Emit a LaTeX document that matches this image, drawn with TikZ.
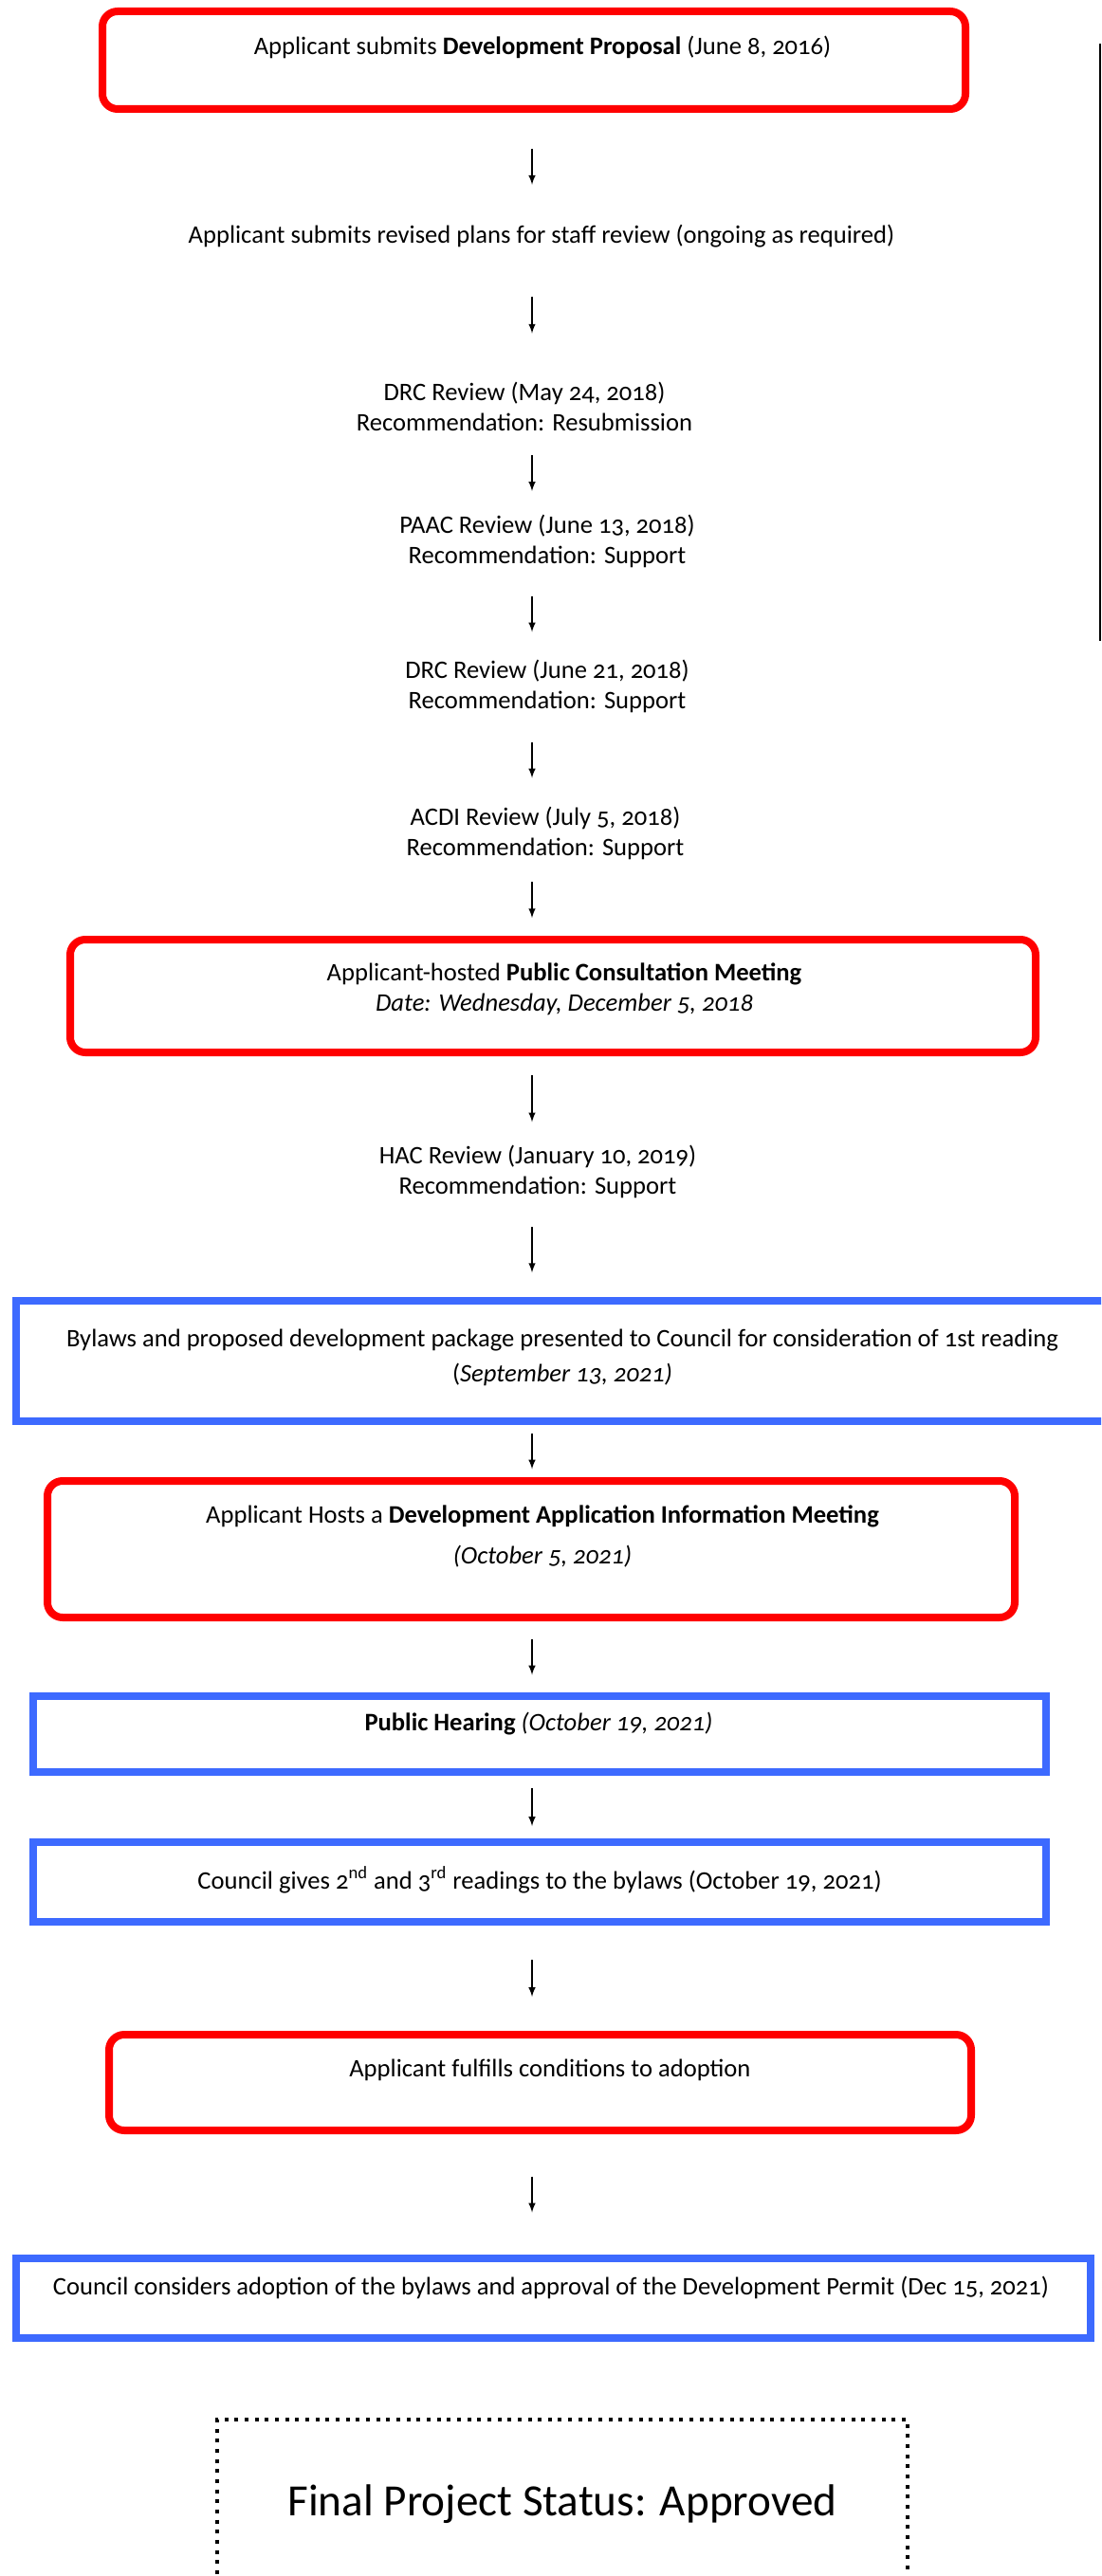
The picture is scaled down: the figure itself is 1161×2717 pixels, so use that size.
\documentclass[tikz,border=0pt]{standalone}
\usepackage{fontspec}
\setmainfont{Carlito}[Numbers=OldStyle]
\usetikzlibrary{calc}

\definecolor{boxred}{RGB}{255,0,0}
\definecolor{boxblue}{RGB}{61,106,255}

\tikzset{
  every node/.style={font=\fontsize{13.3pt}{16pt}\selectfont},
  txt/.style={align=center, inner sep=0pt},
  redbox/.style={draw=boxred, line width=4pt, rounded corners=8pt, inner sep=0pt, outer sep=0pt},
  bluebox/.style={draw=boxblue, line width=4pt, inner sep=0pt, outer sep=0pt},
  statusbox/.style={draw, line width=2pt, dash pattern=on 2pt off 3.33pt, inner sep=0pt, outer sep=0pt},
  flow/.style={->, line width=0.7pt},
}

\begin{document}
\begin{tikzpicture}[x=0.5pt, y=-0.5pt, >=latex]
        \clip (0,0) rectangle (1161,2717);
        \coordinate (spine) at (561,0);

        % thin rule at the right edge
        \draw[line width=0.6pt] (1160,46) -- (1160,676);

        % development proposal
        \node[redbox, minimum width=455pt, minimum height=51.5pt] (proposal) at (563,63.5) {};
        \node[txt] (proposal-t) at (572,50) {Applicant submits \textbf{Development Proposal} (June 8, 2016)};

        % staff and committee reviews
        \node[txt] (revised) at (571,249) {Applicant submits revised plans for staff review (ongoing as required)};
        \node[txt] (drcmay) at (553,429) {DRC Review (May 24, 2018)\\Recommendation: Resubmission};
        \node[txt] (paac) at (577,571) {PAAC Review (June 13, 2018)\\Recommendation: Support};
        \node[txt] (drcjune) at (577,724) {DRC Review (June 21, 2018)\\Recommendation: Support};
        \node[txt] (acdi) at (575,879) {ACDI Review (July 5, 2018)\\Recommendation: Support};

        % public consultation
        \node[redbox, minimum width=509pt, minimum height=59.5pt] (consult) at (583,1050.5) {};
        \node[txt] (consult-t) at (595,1043) {Applicant-hosted \textbf{Public Consultation Meeting}\\\textit{Date: Wednesday, December 5, 2018}};

        \node[txt] (hac) at (567,1236) {HAC Review (January 10, 2019)\\Recommendation: Support};

        % council and meetings
        \node[bluebox, minimum width=581.5pt, minimum height=63.5pt] (firstread) at (598.5,1435.5) {};
        \node[txt] (firstread-t) at (593,1431.5) {Bylaws and proposed development package presented to Council for consideration of 1st reading\\[2.5pt](\textit{September 13, 2021)}};

        \node[redbox, minimum width=510pt, minimum height=72pt] (infomeet) at (560,1634) {};
        \node[txt] (infomeet-t) at (572,1620.5) {Applicant Hosts a \textbf{Development Application Information Meeting}\\[5.5pt]\textit{(October 5, 2021)}};

        \node[bluebox, minimum width=534pt, minimum height=40pt] (hearing) at (569,1829) {};
        \node[txt] (hearing-t) at (568,1818) {\textbf{Public Hearing} \textit{(October 19, 2021)}};

        \node[bluebox, minimum width=534pt, minimum height=42pt] (readings) at (569,1985) {};
        \node[txt] (readings-t) at (569,1983) {Council gives 2\textsuperscript{nd} and 3\textsuperscript{rd} readings to the bylaws (October 19, 2021)};

        \node[redbox, minimum width=454.5pt, minimum height=50.5pt] (conditions) at (569.5,2196.5) {};
        \node[txt] (conditions-t) at (580,2183) {Applicant fulfills conditions to adoption};

        \node[bluebox, minimum width=566.5pt, minimum height=42pt] (adoption) at (583.5,2424) {};
        \node[txt] (adoption-t) at (581,2413) {Council considers adoption of the bylaws and approval of the Development Permit (Dec 15, 2021)};

        % final status
        \node[statusbox, minimum width=364pt, minimum height=104pt] (status) at (593,2656) {};
        \node[txt, font=\fontsize{23.6pt}{28pt}\selectfont] (status-t) at (593,2641) {Final Project Status: Approved};

        % arrows between the steps
        \foreach \a/\b/\len in {
            proposal/revised/38,
            revised/drcmay/39,
            drcmay/paac/38,
            paac/drcjune/38,
            drcjune/acdi/38,
            acdi/consult/38,
            consult/hac/49,
            hac/firstread/48,
            firstread/infomeet/38,
            infomeet/hearing/38,
            hearing/readings/40,
            readings/conditions/39,
            conditions/adoption/38}
                \draw[flow] let \p1=($(\a.south)!0.5!(\b.north)$), \p2=(spine) in
                    (\x2,\y1) ++(0,-\len/2) -- ++(0,\len);
\end{tikzpicture}
\end{document}
